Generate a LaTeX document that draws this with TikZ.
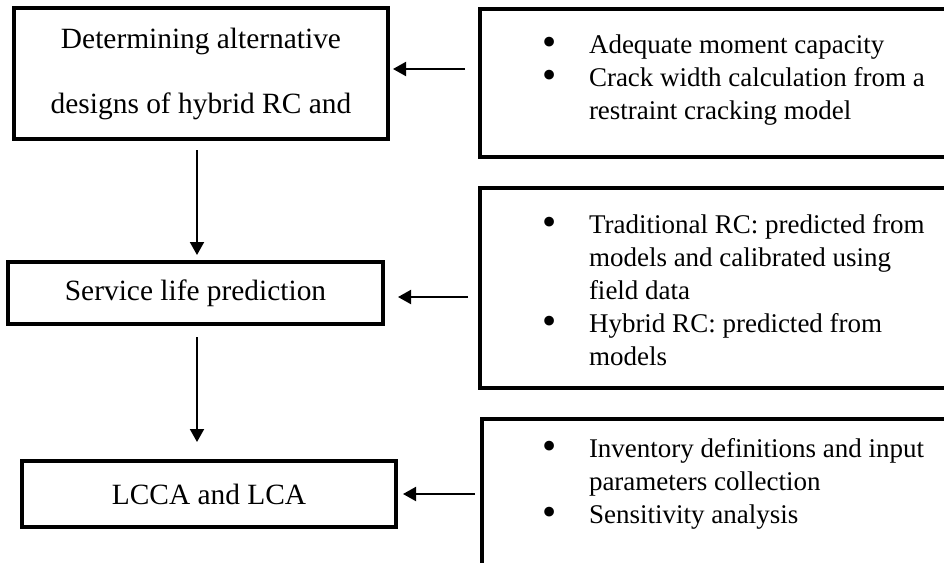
\documentclass[tikz,border=0pt]{standalone}
\usepackage{fontspec}
\setmainfont{Liberation Serif}
\usetikzlibrary{arrows.meta}
\newcommand\bulletcell{\makebox[39pt][l]{\makebox[0pt]{\raisebox{-2.5pt}{\scalebox{1.5}{\textbullet}}}}}
\begin{document}
\begin{tikzpicture}[x=1pt,y=-1pt,
  leftbox/.style={draw, line width=4pt, outer sep=0pt, inner sep=0pt, align=center,
    font=\fontsize{29.4}{65}\selectfont},
  rightbox/.style={draw, line width=3.5pt, outer sep=0pt, inner sep=0pt},
  bullets/.style={anchor=base west, inner sep=0pt, outer sep=0pt,
    font=\fontsize{27}{33}\selectfont},
  arr/.style={line width=2pt, -{Triangle[width=14pt,length=13pt]}}]
\useasboundingbox (0,0) rectangle (944,562);
\clip (0,0) rectangle (944,562);
\fill[white] (0,0) rectangle (944,562);

% left boxes
\node[leftbox, minimum width=374pt, minimum height=131pt] (lb1) at (201,73.5)
  {Determining alternative\\designs of hybrid RC and};
\node[leftbox, minimum width=375pt, minimum height=62pt] (lb2) at (195.5,293)
  {Service life prediction};
\node[leftbox, minimum width=374pt, minimum height=66pt] (lb3) at (209,494)
  {LCCA and LCA};

% right boxes (extend beyond the right / bottom edge)
\node[rightbox, minimum width=480pt, minimum height=148pt] (rb1) at (720,83) {};
\node[rightbox, minimum width=480pt, minimum height=200pt] (rb2) at (720,288) {};
\node[rightbox, minimum width=478pt, minimum height=160pt] (rb3) at (721,499) {};

% right box texts
\node[bullets] (rt1) at (550,53) {\begin{tabular}[t]{@{}l@{}l@{}}
  \bulletcell & Adequate moment capacity\\
  \bulletcell & Crack width calculation from a\\
              & restraint cracking model
  \end{tabular}};
\node[bullets] (rt2) at (550,233) {\begin{tabular}[t]{@{}l@{}l@{}}
  \bulletcell & Traditional RC: predicted from\\
              & models and calibrated using\\
              & field data\\
  \bulletcell & Hybrid RC: predicted from\\
              & models
  \end{tabular}};
\node[bullets] (rt3) at (550,457) {\begin{tabular}[t]{@{}l@{}l@{}}
  \bulletcell & Inventory definitions and input\\
              & parameters collection\\
  \bulletcell & Sensitivity analysis
  \end{tabular}};

% helper coordinates
\coordinate (vx) at (197,0);
\coordinate (h1) at (0,69);
\coordinate (h2) at (0,297);
\coordinate (h3) at (0,494);

% vertical arrows
\draw[arr, shorten <=11pt, shorten >=7pt] (lb1.south -| vx) -- (lb2.north -| vx);
\draw[arr, shorten <=13pt, shorten >=19pt] (lb2.south -| vx) -- (lb3.north -| vx);

% horizontal arrows
\draw[arr, shorten <=15pt, shorten >=5pt] (rb1.west |- h1) -- (lb1.east |- h1);
\draw[arr, shorten <=12pt, shorten >=15pt] (rb2.west |- h2) -- (lb2.east |- h2);
\draw[arr, shorten <=7pt, shorten >=7pt] (rb3.west |- h3) -- (lb3.east |- h3);
\end{tikzpicture}
\end{document}
